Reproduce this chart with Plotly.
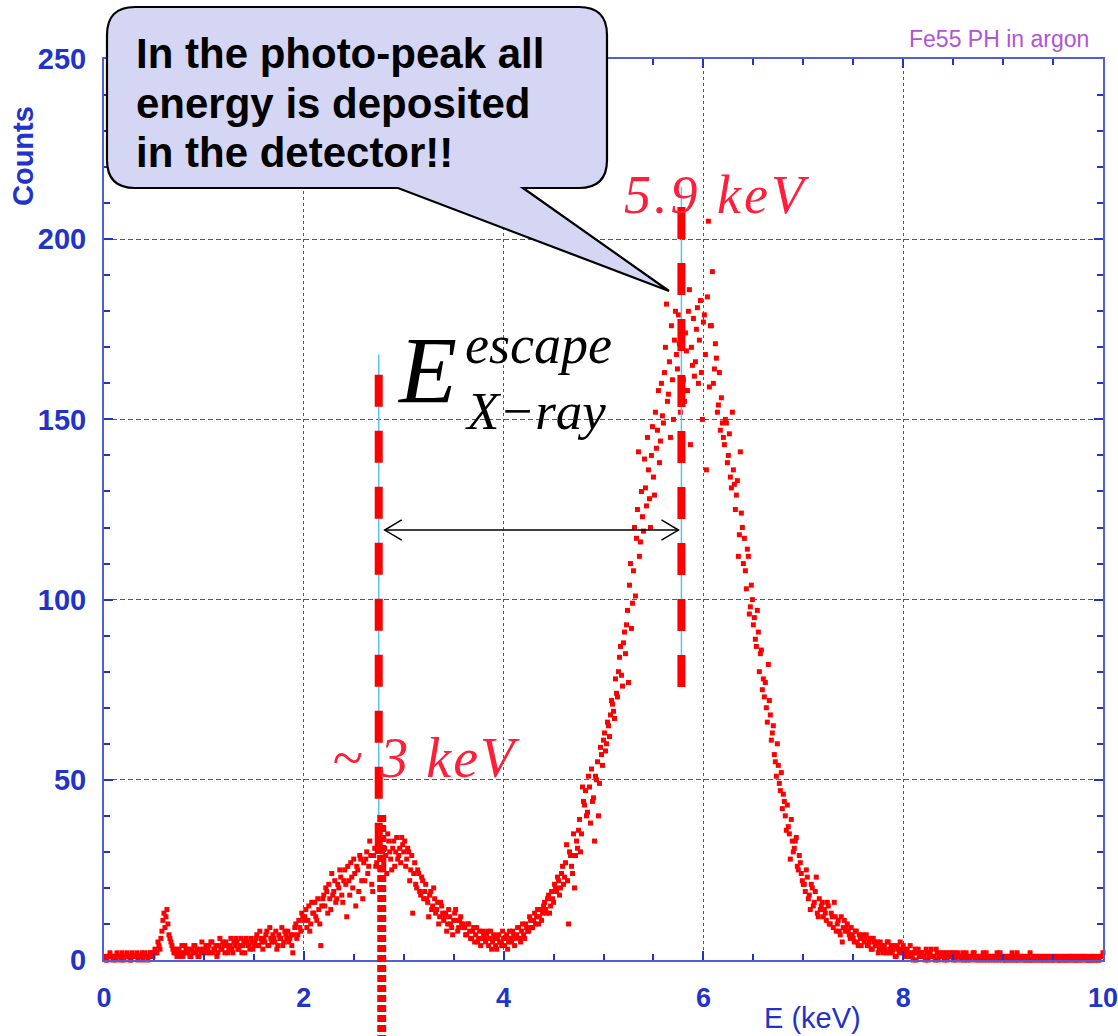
import numpy as np
import plotly.graph_objects as go

# ---------------- data (Fe55 pulse-height spectrum in argon) ----------------
# histogram bin centres, 0.01 keV channels from 0 to 10 keV
energy_keV = np.round(np.arange(0.01, 10.005, 0.01), 2)

# counts in the odd-hundredth channels (0.01, 0.03, ...), one list per keV
counts_a_0_1 = [1, 0, 1, 1, 0, 1, 2, 1, 0, 1, 1, 2, 1, 0, 1, 1, 2, 1, 1, 0, 2, 1, 1, 2, 1,
                3, 2, 4, 6, 11, 9, 14, 7, 5, 3,
                2, 1, 3, 2, 1, 4, 2, 3, 1, 2, 4, 3, 1, 2, 3]
counts_a_1_2 = [3, 2, 4, 5, 2, 3, 1, 4, 3, 5, 2, 4, 3, 6, 2, 4, 5, 3, 6, 4, 2, 5, 4, 6, 3,
                5, 7, 4, 6, 3, 5, 8, 4, 6, 7, 5, 3, 7, 6, 4, 8, 6, 5, 7, 2,
                9, 6, 11, 8, 12]
counts_a_2_3 = [12, 9, 15, 10, 13, 16, 11, 14, 4, 17,
                15, 19, 21, 14, 18, 22, 17, 20, 23, 16,
                25, 12, 22, 27, 20, 24, 26, 19, 28, 17,
                22, 30, 26, 29, 19, 31, 27, 32, 25, 30,
                31, 24, 33, 28, 31, 26, 34, 29, 27, 32]
counts_a_3_4 = [33, 28, 30, 25, 13, 27, 20, 24, 18, 22,
                19, 17, 12, 19, 15, 17, 14, 10, 16, 13,
                12, 8, 14, 10, 7, 13, 11, 9, 12, 10,
                9, 7, 10, 6, 8, 5, 9, 6, 4, 8,
                6, 7, 4, 8, 5, 6, 3, 7, 5, 8]
counts_a_4_5 = [4, 7, 5, 6, 8, 4, 7, 9, 5, 10,
                6, 9, 8, 11, 9, 13, 12, 10, 14, 13,
                16, 13, 18, 15, 17, 21, 19, 22, 20, 26,
                23, 32, 10, 29, 24, 20, 33, 36, 30, 48,
                43, 40, 51, 38, 44, 33, 50, 40, 59, 54]
counts_a_5_6 = [63, 60, 65, 68, 71, 67, 74, 80, 87, 76,
                91, 93, 77, 110, 99, 120, 117, 141, 116, 123,
                139, 126, 136, 120, 148, 129, 142, 158, 144, 151,
                163, 182, 157, 145, 161, 172, 168, 179, 152, 189,
                155, 169, 180, 143, 165, 162, 175, 160, 183, 150]
counts_a_6_7 = [179, 136, 205, 176, 191, 164, 167, 154, 147, 149,
                143, 149, 140, 134, 152, 132, 129, 112, 141, 120,
                117, 103, 112, 98, 100, 95, 87, 91, 85, 75,
                73, 70, 82, 68, 63, 57, 51, 54, 47, 42,
                44, 36, 37, 28, 33, 31, 34, 25, 27, 22]
counts_a_7_8 = [21, 25, 17, 14, 20, 16, 23, 12, 14, 16,
                14, 11, 15, 10, 12, 16, 8, 11, 7, 5,
                11, 9, 8, 6, 7, 5, 8, 4, 6, 7,
                5, 7, 4, 6, 3, 5, 4, 2, 5, 3,
                4, 2, 5, 3, 2, 4, 1, 3, 5, 2]
counts_a_8_9 = [3, 1, 2, 4, 1, 2, 0, 3, 1, 2, 1, 3, 0, 2, 1, 1, 3, 0, 2, 1, 0, 2, 1, 1, 2,
                1, 0, 2, 1, 1, 0, 2, 1, 0, 1, 2, 1, 0, 1, 1, 0, 2, 1, 0, 1, 1, 0, 1, 2, 0]
counts_a_9_10 = [1, 0, 1, 0, 2, 1, 0, 1, 1, 0,
                 1, 0, 1, 2, 0, 1, 0, 1, 1, 0,
                 0, 1, 0, 1, 1, 0, 1, 0, 0, 1,
                 1, 0, 1, 0, 1, 0, 0, 1, 0, 1,
                 1, 0, 0, 1, 0, 1, 0, 0, 1, 1]

# counts in the even-hundredth channels (0.02, 0.04, ...), one list per keV
counts_b_0_1 = [0, 1, 2, 1, 1, 0, 1, 1, 2, 0, 1, 1, 0, 2, 1, 1, 0, 1, 2, 1, 1, 0, 2, 1, 2,
                2, 5, 3, 8, 13, 12, 10, 6, 4, 2,
                3, 2, 1, 4, 2, 3, 2, 1, 3, 4, 2, 1, 3, 5, 2]
counts_b_1_2 = [4, 3, 2, 5, 3, 4, 2, 6, 3, 4, 5, 2, 4, 3, 5, 6, 3, 4, 2, 5, 6, 4, 3, 5, 4,
                6, 4, 8, 5, 6, 7, 4, 9, 5, 6, 8, 4, 6, 9, 5, 7, 8, 6, 4, 7,
                10, 7, 9, 13, 11]
counts_b_2_3 = [14, 11, 8, 16, 13, 12, 17, 10, 15, 18,
                20, 13, 17, 24, 19, 16, 21, 25, 18, 22,
                21, 26, 18, 23, 28, 15, 25, 29, 22, 27,
                28, 24, 33, 21, 29, 26, 35, 28, 31, 27,
                29, 35, 30, 25, 33, 30, 28, 31, 34, 30]
counts_b_3_4 = [26, 31, 22, 29, 24, 21, 25, 19, 23, 17,
                21, 16, 18, 14, 20, 13, 16, 12, 15, 11,
                13, 10, 12, 9, 11, 14, 8, 11, 10, 9,
                7, 10, 8, 6, 9, 7, 5, 8, 6, 7,
                5, 8, 6, 3, 7, 4, 6, 5, 4, 6]
counts_b_4_5 = [6, 3, 8, 5, 7, 6, 9, 6, 8, 7,
                10, 8, 12, 9, 11, 10, 14, 12, 11, 15,
                14, 17, 13, 19, 16, 20, 23, 18, 24, 21,
                27, 22, 30, 26, 35, 29, 31, 39, 35, 44,
                47, 41, 48, 53, 45, 51, 55, 49, 57, 61]
counts_b_5_6 = [58, 66, 62, 72, 69, 78, 73, 84, 79, 88,
                85, 97, 104, 92, 108, 101, 125, 112, 130, 119,
                131, 145, 128, 140, 134, 152, 147, 138, 160, 149,
                170, 155, 166, 176, 150, 180, 164, 171, 186, 161,
                174, 158, 186, 170, 178, 166, 181, 172, 163, 177]
counts_b_6_7 = [168, 184, 159, 176, 160, 171, 152, 163, 156, 145,
                150, 138, 146, 131, 136, 125, 133, 118, 124, 110,
                108, 114, 96, 104, 93, 89, 97, 80, 86, 78,
                77, 66, 72, 61, 65, 55, 60, 49, 52, 46,
                40, 43, 35, 39, 30, 33, 26, 29, 24, 21]
counts_b_7_8 = [19, 23, 18, 21, 15, 19, 13, 17, 15, 12,
                13, 16, 10, 13, 9, 12, 10, 8, 12, 9,
                8, 10, 7, 9, 6, 8, 5, 7, 4, 6,
                6, 4, 5, 3, 6, 4, 5, 3, 4, 2,
                3, 5, 2, 4, 3, 1, 4, 2, 3, 4]
counts_b_8_9 = [2, 3, 1, 2, 0, 3, 2, 1, 2, 1,
                0, 2, 1, 3, 1, 0, 2, 1, 1, 2,
                1, 0, 2, 1, 0,
                2, 1, 1, 0, 2, 1, 0, 1, 1, 2, 0, 1, 1, 0, 2, 1, 0, 1, 1, 0, 1, 2, 0, 1, 1]
counts_b_9_10 = [0, 1, 1, 0, 1, 0, 2, 0, 1, 1,
                 0, 1, 0, 0, 1, 1, 0, 1, 0, 1,
                 1, 0, 1, 0, 0, 1, 1, 0, 1, 0,
                 0, 1, 0, 1, 1, 0, 1, 0, 1, 0,
                 1, 1, 0, 0, 1, 0, 1, 0, 1, 2]

counts_a = (counts_a_0_1 + counts_a_1_2 + counts_a_2_3 + counts_a_3_4 + counts_a_4_5 +
            counts_a_5_6 + counts_a_6_7 + counts_a_7_8 + counts_a_8_9 + counts_a_9_10)
counts_b = (counts_b_0_1 + counts_b_1_2 + counts_b_2_3 + counts_b_3_4 + counts_b_4_5 +
            counts_b_5_6 + counts_b_6_7 + counts_b_7_8 + counts_b_8_9 + counts_b_9_10)
counts = np.empty(len(energy_keV))
counts[0::2] = counts_a
counts[1::2] = counts_b

x_ticks = [0, 2, 4, 6, 8, 10]
y_ticks = [0, 50, 100, 150, 200, 250]

escape_peak_keV = 2.75
photo_peak_keV = 5.78

# ---------------- layout geometry ----------------
W, H = 1118, 1036
ML, MR, MT, MB = 104, 15, 59, 76
PW = W - ML - MR
PH = H - MT - MB


def px(xpix):
    return (xpix - ML) / PW


def py(ypix):
    return (H - MB - ypix) / PH


BLUE = "#2233c8"
AXIS = "#4f5fd8"
GRID = "#3a4ee0"
RED = "#ff0000"
CYAN = "#55c6f2"

fig = go.Figure()
fig.add_trace(go.Scatter(
    x=energy_keV, y=counts, mode="markers",
    marker=dict(symbol="square", size=5, color=RED, line=dict(width=0)),
    cliponaxis=False, hoverinfo="skip"))

axis_common = dict(
    showline=True, linecolor=AXIS, linewidth=2, mirror="allticks",
    ticks="inside", ticklen=9, tickwidth=2, tickcolor=BLUE,
    zeroline=False, showgrid=True, gridcolor=GRID, gridwidth=1.4,
    ticklabeloverflow="allow", automargin=False,
)

fig.update_xaxes(
    range=[0, 10], tickvals=x_ticks, ticktext=[str(v) for v in x_ticks],
    griddash="dot", ticklabelstandoff=13,
    tickfont=dict(family="Liberation Sans", size=27, color=BLUE, weight="bold"),
    minor=dict(dtick=0.5, ticks="inside", ticklen=6, tickwidth=2, tickcolor=BLUE, showgrid=False),
    **axis_common)
fig.update_yaxes(
    range=[0, 250], tickvals=y_ticks, ticktext=[str(v) for v in y_ticks],
    griddash="5px,3px", ticklabelstandoff=10,
    tickfont=dict(family="Liberation Sans", size=29, color=BLUE, weight="bold"),
    minor=dict(dtick=10, ticks="inside", ticklen=6, tickwidth=2, tickcolor=BLUE, showgrid=False),
    **axis_common)

shapes = []
# thin cyan guide lines and thick red dashed markers
shapes.append(dict(type="line", xref="x", yref="y", x0=escape_peak_keV, x1=escape_peak_keV,
                   y0=168, y1=40, line=dict(color=CYAN, width=1.5), layer="above"))
shapes.append(dict(type="line", xref="x", yref="y", x0=escape_peak_keV, x1=escape_peak_keV,
                   y0=162.4, y1=29.4, line=dict(color=RED, width=8, dash="32px,24px"), layer="above"))
shapes.append(dict(type="line", xref="x", yref="paper", x0=escape_peak_keV + 0.03, x1=escape_peak_keV + 0.03,
                   y0=py(815), y1=py(1045), line=dict(color=RED, width=9, dash="7px,3px"), layer="above"))
shapes.append(dict(type="line", xref="x", yref="y", x0=photo_peak_keV, x1=photo_peak_keV,
                   y0=214.5, y1=77.5, line=dict(color=CYAN, width=1.5), layer="above"))
shapes.append(dict(type="line", xref="x", yref="y", x0=photo_peak_keV, x1=photo_peak_keV,
                   y0=208.9, y1=75.5, line=dict(color=RED, width=8, dash="32px,24px"), layer="above"))

# double-headed arrow between the two peaks
ya = 119.3
xl, xr = escape_peak_keV + 0.06, photo_peak_keV - 0.03
shapes.append(dict(type="line", xref="x", yref="y", x0=xl, x1=xr, y0=ya, y1=ya,
                   line=dict(color="black", width=1.5), layer="above"))
shapes.append(dict(type="path", xref="x", yref="y",
                   path=f"M {xl + 0.17},{ya + 2.8} L {xl},{ya} L {xl + 0.17},{ya - 2.8}",
                   line=dict(color="black", width=1.5), layer="above"))
shapes.append(dict(type="path", xref="x", yref="y",
                   path=f"M {xr - 0.17},{ya + 2.8} L {xr},{ya} L {xr - 0.17},{ya - 2.8}",
                   line=dict(color="black", width=1.5), layer="above"))

# speech-bubble callout (pixel outline converted to paper coordinates)
L_, R_, T_, B_, r = 107, 607, 7, 188, 28
pts = [("M", L_ + r, T_), ("L", R_ - r, T_), ("Q", R_, T_, R_, T_ + r), ("L", R_, B_ - r),
       ("Q", R_, B_, R_ - r, B_), ("L", 523, B_), ("L", 669, 291), ("L", 398, B_),
       ("L", L_ + r, B_), ("Q", L_, B_, L_, B_ - r), ("L", L_, T_ + r), ("Q", L_, T_, L_ + r, T_)]
segs = []
for p in pts:
    cmd, coords = p[0], p[1:]
    cc = " ".join(f"{px(coords[i]):.5f},{py(coords[i + 1]):.5f}" for i in range(0, len(coords), 2))
    segs.append(f"{cmd} {cc}")
bubble_path = " ".join(segs) + " Z"
shapes.append(dict(type="path", xref="paper", yref="paper", path=bubble_path,
                   fillcolor="#d5d6f3", line=dict(color="black", width=2.2), layer="above"))

fig.update_layout(shapes=shapes)

ann = []
bubble_lines = ["In the photo-peak all", "energy is deposited", "in the detector!!"]
for i, t in enumerate(bubble_lines):
    ann.append(dict(text=t, xref="paper", yref="paper", x=px(134), y=py(53.5 + 49.5 * i),
                    xanchor="left", yanchor="middle", showarrow=False,
                    font=dict(family="Liberation Sans", size=42, color="black", weight="bold")))

ann.append(dict(text="Fe55 PH in argon", xref="paper", yref="paper", x=px(1091), y=py(39),
                xanchor="right", yanchor="middle", showarrow=False,
                font=dict(family="Liberation Sans", size=23, color="#b055d4")))
ann.append(dict(text="Counts", xref="paper", yref="paper", x=px(23), y=py(156), textangle=-90,
                xanchor="center", yanchor="middle", showarrow=False,
                font=dict(family="Liberation Sans", size=29, color=BLUE, weight="bold")))
ann.append(dict(text="E (keV)", xref="paper", yref="paper", x=px(812), y=py(1018),
                xanchor="center", yanchor="middle", showarrow=False,
                font=dict(family="Liberation Sans", size=29, color=BLUE)))

ann.append(dict(text='<span style="letter-spacing:3px">5.9 keV</span>', xref="paper", yref="paper",
                x=px(717), y=py(195), xanchor="center", yanchor="middle", showarrow=False,
                font=dict(family="Liberation Serif", size=54, color="#ff1f3a", style="italic")))
ann.append(dict(text='<span style="letter-spacing:2px">~ 3 keV</span>', xref="paper", yref="paper",
                x=px(426), y=py(758), xanchor="center", yanchor="middle", showarrow=False,
                font=dict(family="Liberation Serif", size=56, color="#ff1f3a", style="italic")))

ann.append(dict(text="E", xref="paper", yref="paper", x=px(427), y=py(371),
                xanchor="center", yanchor="middle", showarrow=False,
                font=dict(family="Liberation Serif", size=95, color="black", style="italic")))
ann.append(dict(text="escape", xref="paper", yref="paper", x=px(463), y=py(345),
                xanchor="left", yanchor="middle", showarrow=False,
                font=dict(family="Liberation Serif", size=54, color="black", style="italic")))
ann.append(dict(text="X\u2212ray", xref="paper", yref="paper", x=px(463), y=py(411),
                xanchor="left", yanchor="middle", showarrow=False,
                font=dict(family="Liberation Serif", size=53, color="black", style="italic")))

fig.update_layout(
    annotations=ann,
    width=W, height=H,
    margin=dict(l=ML, r=MR, t=MT, b=MB, pad=0, autoexpand=False),
    paper_bgcolor="white", plot_bgcolor="white",
    showlegend=False,
)

fig.write_html("out.html")
